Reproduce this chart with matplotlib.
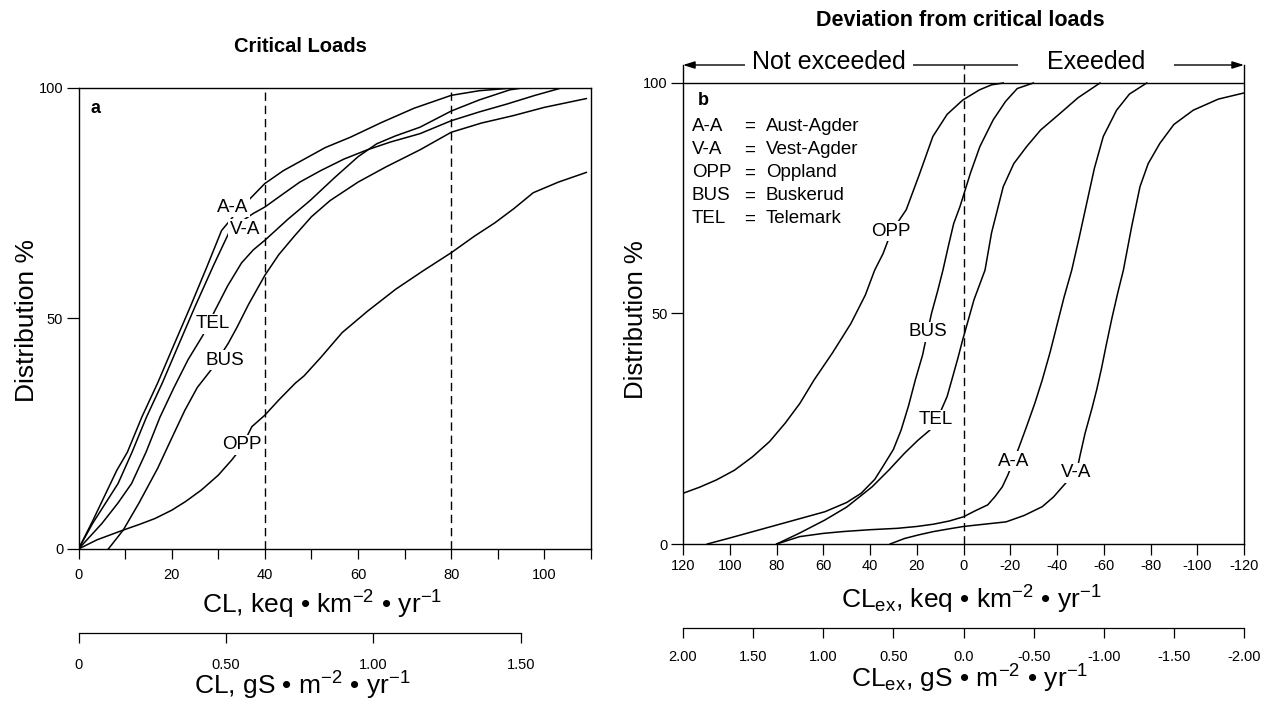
import numpy as np
import matplotlib.pyplot as plt

plt.rcParams['font.family'] = ['Liberation Sans', 'DejaVu Sans']
plt.rcParams['mathtext.fontset'] = 'custom'
plt.rcParams['mathtext.rm'] = 'Liberation Sans'
plt.rcParams['mathtext.it'] = 'Liberation Sans:italic'
plt.rcParams['mathtext.bf'] = 'Liberation Sans:bold'

# ---- panel a : critical loads (keq km-2 yr-1) vs distribution (%) ----
a_aa_x = [0, 3, 8.2, 10.5, 13.6, 17, 20, 24, 27.5, 30.7, 34, 37.2, 40, 44, 48.5, 53, 58.3, 65, 72, 80, 86, 92, 100]
a_aa_y = [0, 6, 17, 21, 28.6, 36, 43.1, 52.5, 61, 69, 73, 76.3, 79.2, 82, 84.5, 87, 89.2, 92.4, 95.5, 98.3, 99.3, 99.8, 100]

a_va_x = [0, 3, 8.5, 11.5, 14.6, 18, 21, 25, 29, 32.5, 35, 37.5, 40, 44, 47.5, 52, 57, 62, 67, 73.3, 80, 86, 91.9, 98, 104]
a_va_y = [0, 5.5, 14.2, 21, 28.6, 36, 43.1, 52.5, 61.5, 69, 71, 72.7, 74.1, 77, 79.5, 82, 84.5, 86.5, 88.2, 90, 92.8, 94.7, 96.4, 98.3, 100]

a_tel_x = [0, 5, 8.5, 11.4, 14.5, 17.5, 20.5, 23.5, 26.7, 29.3, 32, 35, 37.5, 40, 45, 49.7, 55, 60, 64, 68, 73.3, 80, 86, 92.6, 96, 100]
a_tel_y = [0, 5.5, 10, 14.2, 21, 28.6, 35, 41, 46.3, 51.7, 57, 62, 64.8, 66.9, 71.5, 75.5, 80.5, 85, 87.8, 89.5, 91.4, 94.9, 97.3, 99.5, 100, 100]

a_bus_x = [6.4, 9.6, 13, 17, 20, 22.8, 25.5, 28.6, 32.1, 34, 36.5, 40, 43, 46.5, 50, 54, 60, 66, 73.3, 80, 86.5, 93.3, 100, 109]
a_bus_y = [0, 4.1, 10, 17.5, 24, 30, 35, 39, 44.5, 48, 53, 59.3, 63.8, 68, 72, 75.5, 79.5, 82.8, 86.5, 90.3, 92.3, 93.9, 95.7, 97.6]

a_opp_x = [0, 4, 9.6, 13, 16.4, 20, 23, 26.4, 30, 32.9, 35, 37.2, 40, 43, 46.5, 48.4, 52, 56.6, 62, 68.1, 74, 80, 85, 89.4, 93.5, 97.6, 103, 109]
a_opp_y = [0, 2, 4.1, 5.3, 6.6, 8.4, 10.3, 12.8, 16, 19.3, 22, 26.5, 29, 32.3, 35.9, 37.5, 41.5, 46.9, 51.5, 56.3, 60.3, 64.2, 67.8, 70.7, 73.8, 77.2, 79.5, 81.6]

a_xticks = list(range(0, 111, 10))
a_xticklabels = ['0', '', '20', '', '40', '', '60', '', '80', '', '100', '']
a_gs_ticks = [0, 0.5, 1.0, 1.5]
a_gs_labels = ['0', '0.50', '1.00', '1.50']
a_keq_per_gs = 63.3

# ---- panel b : deviation from critical loads ----
b_opp_x = [120, 113, 105.7, 98, 90.3, 83, 76.3, 70, 63.9, 56, 48.2, 42, 38, 34.4, 30.9, 24.5, 19, 13.1, 7, 0.3, -6.8, -12, -17]
b_opp_y = [11, 12.3, 13.9, 16, 18.9, 22.2, 26.2, 30.5, 35.6, 41.5, 47.8, 54, 59.4, 63, 67.7, 72.5, 80, 88.4, 93.2, 96.3, 98.5, 99.6, 100]

b_bus_x = [109.6, 100, 90, 80, 70, 59.3, 50, 43.8, 38, 34.5, 30, 26.7, 23.5, 20.6, 17.5, 15.4, 13.7, 11, 8.8, 6.3, 4.2, 1.5, -3, -7, -12.7, -18, -23, -29.9]
b_bus_y = [0, 1.3, 2.7, 4.1, 5.5, 7, 9, 11, 14, 16.8, 20.5, 24.7, 30, 35.6, 41, 46, 50, 55, 59.4, 65, 69.5, 73.2, 80.5, 86.2, 92, 96, 98.8, 100]

b_tel_x = [79.9, 70, 59.3, 50, 39.1, 32, 25.2, 19.5, 14.4, 10, 7, 4.5, 2.3, 0.4, -2, -4.5, -9.2, -12, -17, -21.5, -27, -33, -41.3, -49, -58.4]
b_tel_y = [0, 2.4, 5.2, 8, 12.4, 16, 19.7, 22.5, 24.7, 28.5, 32, 36.5, 40.5, 44.2, 48.5, 53, 59.4, 67.5, 77.5, 82.5, 86.2, 89.8, 93.4, 96.8, 100]

b_aa_x = [79.9, 70.1, 60, 51.5, 40, 28.3, 20, 12.8, 6, 0, -5, -10.4, -13.5, -16.6, -19, -21.3, -23.6, -27, -30.5, -33.7, -37, -40, -43, -46.3, -49.5, -52.7, -56, -59.8, -65.5, -71, -78.4]
b_aa_y = [0, 1.6, 2.3, 2.7, 3.1, 3.4, 3.8, 4.3, 5, 5.9, 7.2, 8.5, 10.3, 12.4, 15, 17.9, 20.8, 25.5, 30.5, 35.6, 41.5, 47.5, 53.5, 59.4, 66.5, 73.9, 81.5, 88.4, 94.1, 97.6, 100]

b_va_x = [31.4, 25.2, 19, 12.8, 6, 0, -9, -18.2, -26, -33.7, -38.5, -43, -46, -48.4, -49.9, -52, -55, -57, -59, -61, -63.5, -66, -68.4, -72, -75.5, -79, -84, -90, -98.3, -109, -119.7]
b_va_y = [0, 1.2, 2, 2.7, 3.3, 3.8, 4.3, 4.8, 6.2, 8.1, 10.2, 12.8, 14.5, 15.7, 19.3, 24, 29.5, 33.5, 38, 43, 49, 54.5, 59.4, 69, 77.5, 82.5, 86.9, 91, 94.1, 96.5, 97.8]

b_xticks = list(range(120, -121, -20))
b_xticklabels = ['120', '100', '80', '60', '40', '20', '0', '-20', '-40', '-60', '-80', '-100', '-120']
b_gs_ticks = [2.0, 1.5, 1.0, 0.5, 0.0, -0.5, -1.0, -1.5, -2.0]
b_gs_labels = ['2.00', '1.50', '1.00', '0.50', '0.0', '-0.50', '-1.00', '-1.50', '-2.00']
b_keq_per_gs = 60.0

legend_abbr = ['A-A', 'V-A', 'OPP', 'BUS', 'TEL']
legend_names = ['Aust-Agder', 'Vest-Agder', 'Oppland', 'Buskerud', 'Telemark']

W, H = 1276, 703
fig = plt.figure(figsize=(W / 100, H / 100), dpi=100)

def px(x, y):
    return x / W, 1 - y / H

lw = 1.1
dash = (0, (6, 3.5))
lab_box = dict(boxstyle='square,pad=0.08', fc='white', ec='none')
lab_fs = 13.5
tick_fs = 10.5


def style_ticks(ax):
    for s in ax.spines.values():
        s.set_linewidth(1.0)
    ax.tick_params(direction='out', width=0.9, labelsize=tick_fs)
    ax.tick_params(axis='y', length=9, pad=2)


def gs_axis(rect, xlim, ticks, labels, factor, bounds, pad):
    s = fig.add_axes(rect)
    s.patch.set_visible(False)
    s.set_xlim(xlim)
    s.set_yticks([])
    for k in ['top', 'left', 'right']:
        s.spines[k].set_visible(False)
    s.spines['bottom'].set_bounds(bounds[0] * factor, bounds[1] * factor)
    s.spines['bottom'].set_linewidth(0.9)
    s.set_xticks([t * factor for t in ticks])
    s.set_xticklabels(labels)
    s.tick_params(axis='x', direction='out', length=7, width=0.9, pad=pad, labelsize=tick_fs)
    return s


# ================= panel a =================
ax1 = fig.add_axes([78.5 / W, 1 - 549 / H, 512.5 / W, 461.5 / H])
for x, y in [(a_aa_x, a_aa_y), (a_va_x, a_va_y), (a_tel_x, a_tel_y), (a_bus_x, a_bus_y), (a_opp_x, a_opp_y)]:
    ax1.plot(x, y, color='k', lw=lw)
ax1.axvline(40, color='k', lw=1, ls=dash)
ax1.axvline(80, color='k', lw=1, ls=dash)
ax1.set_xlim(0, 110)
ax1.set_ylim(0, 100)
ax1.set_xticks(a_xticks)
ax1.set_xticklabels(a_xticklabels)
ax1.set_yticks([0, 50, 100])
ax1.set_yticklabels(['0', '50', '100'])
style_ticks(ax1)
ax1.tick_params(axis='x', length=7, pad=7)

for t, (x, y) in zip(['A-A', 'V-A', 'TEL', 'BUS', 'OPP'],
                     [(33.1, 74.1), (35.7, 69.3), (28.8, 48.8), (31.4, 40.9), (35, 22.6)]):
    ax1.text(x, y, t, fontsize=lab_fs, ha='center', va='center', bbox=lab_box, zorder=5)
ax1.text(2.6, 95.5, 'a', fontsize=13, fontweight='bold', va='center')

fig.text(*px(300, 47), 'Critical Loads', fontsize=14.5, fontweight='bold', ha='center', va='center')
fig.text(*px(27, 320), 'Distribution %', fontsize=19, rotation=90, ha='center', va='center')
fig.text(*px(322, 605), r'CL, keq • km$^{-2}$ • yr$^{-1}$', fontsize=19, ha='center', va='center')
fig.text(*px(302, 686), r'CL, gS • m$^{-2}$ • yr$^{-1}$', fontsize=19, ha='center', va='center')

gs_axis([78.5 / W, 1 - 632.7 / H, 512.5 / W, 0.0005], (0, 110), a_gs_ticks, a_gs_labels,
        a_keq_per_gs, (0, 1.5), 11)

# ================= panel b =================
top_b = 103.9
ax2 = fig.add_axes([683 / W, 1 - 544 / H, 561 / W, 479 / H])
for x, y in [(b_opp_x, b_opp_y), (b_bus_x, b_bus_y), (b_tel_x, b_tel_y), (b_aa_x, b_aa_y), (b_va_x, b_va_y)]:
    ax2.plot(x, y, color='k', lw=lw)
ax2.set_xlim(120, -120)
ax2.set_ylim(0, top_b)
ax2.axhline(100, color='k', lw=1.0)
ax2.plot([0, 0], [0, top_b], color='k', lw=1, ls=dash, clip_on=False)
ax2.spines['top'].set_visible(False)
ax2.set_xticks(b_xticks)
ax2.set_xticklabels(b_xticklabels)
ax2.set_yticks([0, 50, 100])
ax2.set_yticklabels(['0', '50', '100'])
style_ticks(ax2)
ax2.tick_params(axis='x', length=8, pad=3)

ax2.annotate('', xy=(120, top_b), xytext=(-120, top_b), annotation_clip=False,
             arrowprops=dict(arrowstyle='<|-|>,head_length=0.7,head_width=0.22',
                             lw=1, color='k', shrinkA=0, shrinkB=0))
ax2.text(57.5, 104.6, ' Not exceeded ', fontsize=18, ha='center', va='center',
         bbox=dict(boxstyle='square,pad=0.02', fc='white', ec='none'), zorder=5, clip_on=False)
ax2.text(-56.7, 104.6, '    Exeeded    ', fontsize=18, ha='center', va='center',
         bbox=dict(boxstyle='square,pad=0.02', fc='white', ec='none'), zorder=5, clip_on=False)

for t, (x, y) in zip(['OPP', 'BUS', 'TEL', 'A-A', 'V-A'],
                     [(30.9, 67.8), (15.4, 46), (12, 26.9), (-21.6, 17.9), (-48, 15.5)]):
    ax2.text(x, y, t, fontsize=lab_fs, ha='center', va='center', bbox=lab_box, zorder=5)

ax2.text(113.8, 96.3, 'b', fontsize=13, fontweight='bold', va='center')
for i, (ab, nm) in enumerate(zip(legend_abbr, legend_names)):
    yy = 90.5 - i * 5.0
    ax2.text(116.2, yy, ab, fontsize=lab_fs, ha='left', va='center')
    ax2.text(91.5, yy, '=', fontsize=lab_fs, ha='center', va='center')
    ax2.text(84.6, yy, nm, fontsize=lab_fs, ha='left', va='center')

fig.text(*px(960, 20), 'Deviation from critical loads', fontsize=15.5, fontweight='bold', ha='center', va='center')
fig.text(*px(636, 320), 'Distribution %', fontsize=18.5, rotation=90, ha='center', va='center')
fig.text(*px(971, 600), r'CL$_{\rm ex}$, keq • km$^{-2}$ • yr$^{-1}$', fontsize=19, ha='center', va='center')
fig.text(*px(970, 679), r'CL$_{\rm ex}$, gS • m$^{-2}$ • yr$^{-1}$', fontsize=19, ha='center', va='center')

gs_axis([683 / W, 1 - 628 / H, 561 / W, 0.0005], (120, -120), b_gs_ticks, b_gs_labels,
        b_keq_per_gs, (2.0, -2.0), 9)

fig.savefig('out.png', dpi=100, facecolor='white')
